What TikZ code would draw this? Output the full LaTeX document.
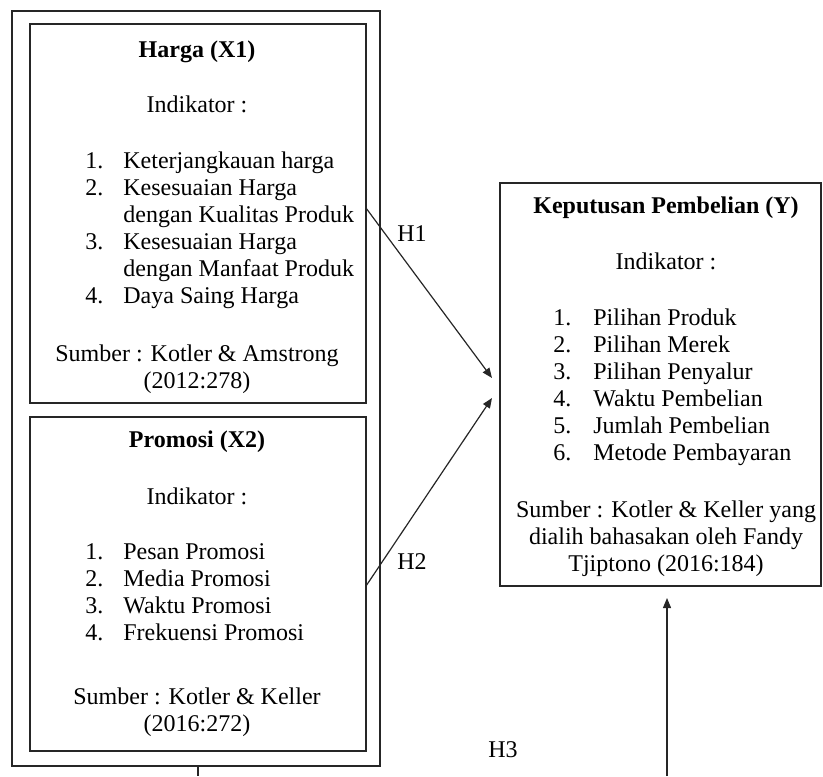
\documentclass[tikz,border=0pt]{standalone}
\usepackage{fontspec}
\setmainfont{Liberation Serif}
\usetikzlibrary{fit,arrows.meta}
\begin{document}
\begin{tikzpicture}[x=0.5pt,y=-0.5pt,
  frame/.style={draw=black!85, line width=0.6pt, inner sep=0pt},
  txt/.style={anchor=base, inner sep=0pt, font=\fontsize{12}{13.5}\selectfont},
  ttl/.style={txt, font=\fontsize{12}{13.5}\selectfont\bfseries},
  lst/.style={anchor=base west, inner sep=0pt, font=\fontsize{12}{13.5}\selectfont},
  conn/.style={draw=black!85, line width=0.6pt, -{Triangle[length=5pt,width=4pt]}}
]
\useasboundingbox (0,0) rectangle (823,776);

% boxes
\node[frame, fit={(12,11) (380,766)}] (outer) {};
\node[frame, fit={(30,24) (366,403)}] (harga) {};
\node[frame, fit={(30,417) (366,751)}] (promosi) {};
\node[frame, fit={(500,183) (821,586)}] (kep) {};

% Harga text
\node[ttl] (hT) at (197,57) {Harga (X1)};
\node[txt] (hI) at (197,112) {Indikator :};
\node[lst] (hL) at (85,168) {\begin{tabular}[t]{@{}p{19pt}@{}l@{}}
1. & Keterjangkauan harga\\
2. & Kesesuaian Harga\\
   & dengan Kualitas Produk\\
3. & Kesesuaian Harga\\
   & dengan Manfaat Produk\\
4. & Daya Saing Harga
\end{tabular}};
\node[txt] (hS1) at (197,361) {Sumber : Kotler \& Amstrong};
\node[txt] (hS2) at (197,388) {(2012:278)};

% Promosi text
\node[ttl] (pT) at (197,447) {Promosi (X2)};
\node[txt] (pI) at (197,504) {Indikator :};
\node[lst] (pL) at (85,559) {\begin{tabular}[t]{@{}p{19pt}@{}l@{}}
1. & Pesan Promosi\\
2. & Media Promosi\\
3. & Waktu Promosi\\
4. & Frekuensi Promosi
\end{tabular}};
\node[txt] (pS1) at (197,704) {Sumber : Kotler \& Keller};
\node[txt] (pS2) at (197,731) {(2016:272)};

% Keputusan text
\node[ttl] (kT) at (666,213) {Keputusan Pembelian (Y)};
\node[txt] (kI) at (666,269) {Indikator :};
\node[lst] (kL) at (553,325) {\begin{tabular}[t]{@{}p{20pt}@{}l@{}}
1. & Pilihan Produk\\
2. & Pilihan Merek\\
3. & Pilihan Penyalur\\
4. & Waktu Pembelian\\
5. & Jumlah Pembelian\\
6. & Metode Pembayaran
\end{tabular}};
\node[txt] (kS1) at (666,517) {Sumber : Kotler \& Keller yang};
\node[txt] (kS2) at (666,544) {dialih bahasakan oleh Fandy};
\node[txt] (kS3) at (666,571) {Tjiptono (2016:184)};

% connector endpoints
\coordinate (h1s) at (366,208);
\coordinate (h1e) at (492,378);
\coordinate (h2s) at (366,586);
\coordinate (h2e) at (492,398);
\coordinate (stub) at (198,776);
\coordinate (h3s) at (667,776);
\coordinate (h3e) at (667,598);

\draw[conn] (h1s) -- (h1e);
\draw[conn] (h2s) -- (h2e);
\draw[conn] (h3s) -- (h3e);
\draw[draw=black!85, line width=0.6pt] (outer.south -| stub) -- (stub);

% labels
\node[lst] (H1) at (397,241) {H1};
\node[lst] (H2) at (397,569) {H2};
\node[lst] (H3) at (488,757) {H3};
\end{tikzpicture}
\end{document}
